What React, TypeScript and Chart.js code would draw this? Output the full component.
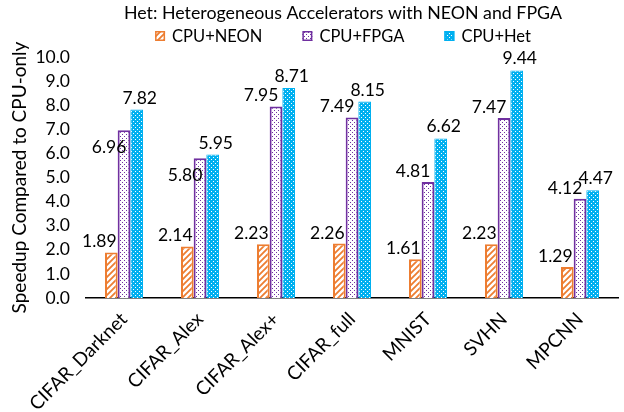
import React, { useEffect, useRef } from "react";
import { Chart, registerables } from "chart.js";

Chart.register(...registerables);

const titleText = "Het: Heterogeneous Accelerators with NEON and FPGA";
const yAxisTitle = "Speedup Compared to CPU-only";
const categories = ["CIFAR_Darknet", "CIFAR_Alex", "CIFAR_Alex+", "CIFAR_full", "MNIST", "SVHN", "MPCNN"];
const seriesNames = ["CPU+NEON", "CPU+FPGA", "CPU+Het"];
const cpuNeon = [1.89, 2.14, 2.23, 2.26, 1.61, 2.23, 1.29];
const cpuFpga = [6.96, 5.8, 7.95, 7.49, 4.81, 7.47, 4.12];
const cpuHet = [7.82, 5.95, 8.71, 8.15, 6.62, 9.44, 4.47];
const yMin = 0;
const yMax = 10;
const yStep = 1;
// FPGA labels that were moved under the bar top in the original
const fpgaLabelsBelow = [0, 1];

const ORANGE = "#ED7D31";
const PURPLE = "#7030A0";
const BLUE = "#00B0F0";
const FONT = "Lato, 'Open Sans', sans-serif";

const PLOT_LEFT = 86;
const PLOT_BOTTOM = 298;
const PLOT_TOP = 57;
const HEADER_CENTER_X = 343;
const TITLE_BASELINE = 18.5;
const LEGEND_BASELINE = 42;

function makePattern(kind: string): CanvasPattern | string {
  const c = document.createElement("canvas");
  const ctx = c.getContext("2d");
  if (!ctx) return "#fff";
  if (kind === "hatch") {
    c.width = 6;
    c.height = 6;
    ctx.fillStyle = "#fff";
    ctx.fillRect(0, 0, 6, 6);
    ctx.strokeStyle = ORANGE;
    ctx.lineWidth = 1.8;
    ctx.beginPath();
    ctx.moveTo(-1, 7);
    ctx.lineTo(7, -1);
    ctx.moveTo(-4, 4);
    ctx.lineTo(4, -4);
    ctx.moveTo(2, 10);
    ctx.lineTo(10, 2);
    ctx.stroke();
  } else if (kind === "purpledots") {
    c.width = 4;
    c.height = 4;
    ctx.fillStyle = "#fff";
    ctx.fillRect(0, 0, 4, 4);
    ctx.fillStyle = PURPLE;
    ctx.fillRect(0, 0, 1, 1);
    ctx.fillRect(2, 2, 1, 1);
  } else {
    c.width = 4;
    c.height = 4;
    ctx.fillStyle = BLUE;
    ctx.fillRect(0, 0, 4, 4);
    ctx.fillStyle = "#fff";
    ctx.fillRect(1, 1, 1, 1);
    ctx.fillRect(3, 3, 1, 1);
  }
  const p = ctx.createPattern(c, "repeat");
  return p || "#fff";
}

const labelPlugin = {
  id: "barLabels",
  afterDatasetsDraw(chart: any) {
    const ctx = chart.ctx;
    ctx.save();
    ctx.font = `17.5px ${FONT}`;
    ctx.fillStyle = "#000";
    ctx.textBaseline = "alphabetic";
    chart.data.datasets.forEach((ds: any, di: number) => {
      const meta = chart.getDatasetMeta(di);
      meta.data.forEach((bar: any, i: number) => {
        const v = ds.data[i];
        const txt = v.toFixed(2);
        const w = bar.width;
        if (di === 0) {
          ctx.textAlign = "right";
          ctx.fillText(txt, bar.x + w / 2 - 1, bar.y - 5);
        } else if (di === 1) {
          ctx.textAlign = "right";
          if (fpgaLabelsBelow.includes(i)) {
            ctx.fillText(txt, bar.x + w / 2 - 4, bar.y + 23);
          } else {
            ctx.fillText(txt, bar.x + w / 2 - 4, bar.y - 5);
          }
        } else {
          ctx.textAlign = "center";
          ctx.fillText(txt, bar.x + 3, bar.y - 6);
        }
      });
    });
    ctx.restore();
  },
};

const headerPlugin = {
  id: "header",
  afterDraw(chart: any) {
    const ctx = chart.ctx;
    const ds = chart.data.datasets;
    ctx.save();
    // title
    ctx.font = `17.8px ${FONT}`;
    ctx.fillStyle = "#000";
    ctx.textAlign = "center";
    ctx.textBaseline = "alphabetic";
    ctx.fillText(titleText, HEADER_CENTER_X, TITLE_BASELINE);
    // legend
    ctx.font = `16.5px ${FONT}`;
    ctx.textAlign = "left";
    const box = 10;
    const gap = 7;
    const spacing = 40;
    const widths = ds.map((d: any) => box + gap + ctx.measureText(d.label).width);
    const total = widths.reduce((a: number, b: number) => a + b, 0) + spacing * (ds.length - 1);
    let x = HEADER_CENTER_X - total / 2;
    const boxTop = LEGEND_BASELINE - 11;
    ds.forEach((d: any, i: number) => {
      ctx.fillStyle = d.backgroundColor;
      ctx.fillRect(x, boxTop, box, box);
      ctx.strokeStyle = d.borderColor;
      ctx.lineWidth = 1.5;
      ctx.strokeRect(x + 0.75, boxTop + 0.75, box - 1.5, box - 1.5);
      ctx.fillStyle = "#000";
      ctx.fillText(d.label, x + box + gap, LEGEND_BASELINE);
      x += widths[i] + spacing;
    });
    ctx.restore();
  },
};

export default function App() {
  const ref = useRef<HTMLCanvasElement | null>(null);
  useEffect(() => {
    document.body.style.margin = "0";
    if (!ref.current) return;
    const chart = new Chart(ref.current, {
      type: "bar",
      data: {
        labels: categories,
        datasets: [
          {
            label: seriesNames[0],
            data: cpuNeon,
            backgroundColor: makePattern("hatch") as any,
            borderColor: ORANGE,
            borderWidth: 2,
          },
          {
            label: seriesNames[1],
            data: cpuFpga,
            backgroundColor: makePattern("purpledots") as any,
            borderColor: PURPLE,
            borderWidth: 2,
          },
          {
            label: seriesNames[2],
            data: cpuHet,
            backgroundColor: makePattern("bluedots") as any,
            borderColor: BLUE,
            borderWidth: 1,
          },
        ],
      },
      options: {
        responsive: false,
        animation: false,
        layout: { padding: { left: 2, right: 6, top: PLOT_TOP, bottom: 0 } },
        datasets: {
          bar: { categoryPercentage: 0.5, barPercentage: 1 },
        },
        plugins: {
          title: { display: false },
          legend: { display: false },
          tooltip: { enabled: false },
        },
        scales: {
          x: {
            grid: { display: false },
            border: { display: true, color: "#000", width: 1.5 },
            afterFit: (s: any) => {
              s.height = 412 - PLOT_BOTTOM;
            },
            ticks: {
              color: "#000",
              font: { family: FONT, size: 19 },
              minRotation: 45,
              maxRotation: 45,
              autoSkip: false,
              padding: 2,
            },
          },
          y: {
            min: yMin,
            max: yMax,
            grid: { display: false },
            border: { display: false },
            afterFit: (s: any) => {
              s.width = PLOT_LEFT - 2;
            },
            title: {
              display: true,
              text: yAxisTitle,
              color: "#000",
              font: { family: FONT, size: 19 },
              padding: { top: 6, bottom: 0 },
            },
            ticks: {
              stepSize: yStep,
              autoSkip: false,
              color: "#000",
              font: { family: FONT, size: 17.5 },
              padding: 8,
              callback: (v: any) => Number(v).toFixed(1),
            },
          },
        },
      },
      plugins: [labelPlugin, headerPlugin],
    });
    return () => chart.destroy();
  }, []);
  return (
    <div style={{ width: 624, height: 412 }}>
      <canvas ref={ref} width={624} height={412} />
    </div>
  );
}
